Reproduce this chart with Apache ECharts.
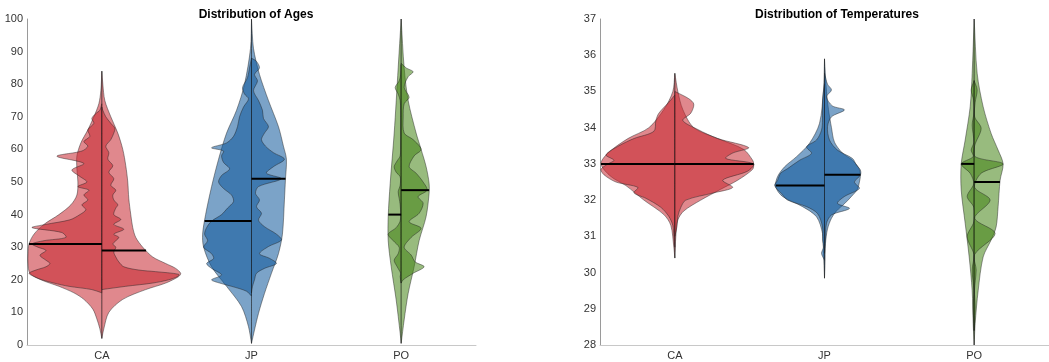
<!DOCTYPE html>
<html>
<head>
<meta charset="utf-8">
<script src="https://cdn.jsdelivr.net/npm/echarts@6/dist/echarts.min.js"></script>
<style>
  html, body { margin: 0; padding: 0; background: #fff; }
  #chart { width: 1049px; height: 362px; }
</style>
</head>
<body>
<div id="chart"></div>
<script>
// Categories shared by both panels
const categories = ['CA', 'JP', 'PO'];

// Medians per category, left half / right half
const ageMediansLeft = [31, 38, 40];
const ageMediansRight = [29, 51, 47.5];
const tempMediansLeft = [33, 32.4, 33];
const tempMediansRight = [33, 32.7, 32.5];

// Density profiles: [value, density] pairs. "Smooth" = wide bandwidth, "Wiggly" = narrow bandwidth.
// Ages
const caAgeLeftSmooth = [[2,0],[5,2],[8,5],[11,9],[14,18],[16,28],[18,43],[20,61],[22,72],[25,74],[28,74],[31,73],[34,68],[37,58],[40,43],[43,31],[46,25],[50,24],[54,25],[58,25],[62,21],[66,14],[70,8],[74,3],[78,1],[84,0]];
const caAgeLeftWiggly = [[16,0],[17,10],[18,33],[19,48],[20,60],[21,68],[22,73],[23,66],[24,56],[25,52],[26,56],[27.5,62],[29,56],[30,64],[31,70],[32,58],[33,36],[34.5,40],[36,70],[37,56],[38.4,32],[40,22],[41.5,16],[43,20],[44.5,14],[46,18],[47.5,13],[48.6,24],[50,15],[51.7,22],[53.7,30],[55.7,18],[57.9,45],[59.5,20],[61,14],[62.4,18],[64,12],[66,14],[68,8],[69.5,10],[71,6],[72,2],[74,0]];
const caAgeRightSmooth = [[2,0],[5,2],[10,7],[14,21],[17,44],[19,64],[21,77],[22,79],[23.5,74],[25,64],[27,51],[30,41],[33,34],[36,31],[40,29],[45,27],[50,26],[55,24],[60,21],[65,16],[70,9],[75,3],[80,1],[84,0]];
const caAgeRightWiggly = [[17,0],[18,24],[19,51],[20,67],[21,76],[21.7,77],[22.5,54],[23,37],[24,22],[25.5,17],[27,14],[28.5,12],[30,14],[31,11],[33,17],[34,12],[35.5,22],[37,12],[38.5,19],[40,12],[42,14],[43,16],[44.5,12],[46,11],[47.5,14],[49,9],[51,12],[53,7],[55,11],[57,6],[59,7],[61,4],[63,9],[65,12],[66.5,13],[68,9],[70,4],[72,1],[73,0]];

const jpAgeLeftSmooth = [[0.5,0],[5.6,3],[11.8,10],[18,25],[24,40],[30,48],[34,49],[40,46],[48.6,40],[57,33],[65,25],[72,15],[80,7],[91,1],[100,0]];
const jpAgeLeftWiggly = [[15,0],[16.5,5],[18,20],[19,32],[20,40],[21.5,30],[23.5,40],[25,45],[26.5,38],[28,40],[30,48],[32,44],[34,47],[36,45],[38,40],[40,30],[42,24],[44,18],[46,20],[48,28],[50,33],[52,30],[54,22],[56,28],[58,30],[59.5,28],[60.5,40],[62,25],[64,18],[67,14],[70,12],[73,8],[75.5,3],[77,7],[79,9],[82,4],[85,2],[88,0]];
const jpAgeRightSmooth = [[0.5,0],[4.6,3],[9.7,7],[15.8,13],[22,20],[28,27],[34,31],[44.5,33],[50.6,34],[57,35],[61,32],[67,27],[75,17],[83,8],[91,2],[100,0]];
const jpAgeRightWiggly = [[16,0],[18,1],[20,3],[22,5],[23.5,13],[25,25],[26.6,18],[28,8],[30.2,17],[32.2,30],[34,25],[36.3,13],[38.3,7],[40.4,10],[42.4,5],[44.5,8],[46.5,4],[48.6,7],[51,30],[52.7,15],[54.7,22],[57,33],[59,22],[61,14],[63,10],[65,13],[67,17],[69.5,12],[72,11],[75,7],[78,2],[81,6],[83,3],[85,8],[87,5],[88,0]];

const poAgeLeftSmooth = [[0.5,0],[3.6,1],[13.8,5],[24,10],[32,13],[39.4,13],[49.6,11],[65,7],[85,3],[100,0]];
const poAgeLeftWiggly = [[19,0],[21,1],[22,0.5],[24,4],[26,7],[28,3],[30,2],[32,8],[34,13],[36,5],[38,1],[40,0.5],[43,1],[45,2],[47,3],[49,1],[51.6,1],[53,5],[54.7,7],[56.5,4],[58,1],[62,0.5],[66,0.5],[72,0.5],[75,1],[77,3],[79,6],[81,2],[83,0.5],[86,0]];
const poAgeRightSmooth = [[0.5,0],[7.7,3],[15.8,7],[24,13],[32,18],[39.4,25],[46.5,28],[49.6,28],[54.7,25],[60,20],[65,15],[75,7],[85,3],[100,0]];
const poAgeRightWiggly = [[19,0],[20,2],[22,12],[24,23],[25.5,14],[27.6,10],[30,3],[33,10],[35.8,20],[37.8,8],[40.4,18],[43.5,22],[45.5,17],[47.5,26],[50,22],[52.7,15],[54.7,8],[58,13],[60,20],[63,12],[65,3],[70,2],[74,3],[76,8],[79,3],[82.3,7],[83.8,12],[85,5],[86.4,0]];

// Temperatures
const caTempLeftSmooth = [[30.4,0],[30.7,1],[31.3,4],[31.6,11],[32.0,31],[32.4,49],[32.65,64],[33.0,74],[33.3,67],[33.7,47],[34.0,26],[34.5,11],[35.0,2],[35.5,0]];
const caTempLeftWiggly = [[30.7,0],[31.0,1],[31.3,2],[31.55,6],[31.8,14],[32.05,29],[32.2,41],[32.35,37],[32.5,59],[32.7,71],[32.85,74],[33.0,67],[33.1,61],[33.25,69],[33.5,56],[33.7,41],[33.9,21],[34.2,19],[34.4,16],[34.7,6],[34.9,0]];
const caTempRightSmooth = [[30.4,0],[31.0,1],[31.45,3],[31.7,9],[32.0,26],[32.3,46],[32.55,63],[32.85,78],[33.0,79],[33.1,78],[33.4,69],[33.7,43],[34.0,19],[34.5,8],[35.0,3],[35.5,0]];
const caTempRightWiggly = [[31.0,0],[31.25,2],[31.55,3],[31.8,6],[32.0,11],[32.2,39],[32.35,58],[32.55,48],[32.8,73],[33.0,79],[33.15,51],[33.3,58],[33.45,74],[33.7,43],[33.95,23],[34.2,8],[34.4,16],[34.65,19],[34.8,14],[35.0,0]];

const jpTempLeftSmooth = [[29.84,0],[30.53,1],[31.08,2],[31.54,8],[31.82,22],[32.1,42],[32.37,49],[32.65,47],[32.92,40],[33.2,28],[33.57,15],[34.12,5],[35.04,1],[35.9,0]];
const jpTempLeftWiggly = [[30.34,0],[30.53,3],[30.7,1],[30.9,2],[31.26,2],[31.63,7],[31.82,18],[32.0,37],[32.18,43],[32.4,50],[32.55,47],[32.74,44],[32.87,37],[33.1,25],[33.29,13],[33.47,18],[33.66,8],[33.93,3],[34.21,2],[34.76,2],[35.2,0]];
const jpTempRightSmooth = [[29.85,0],[30.2,0.5],[30.8,1],[31.2,3],[31.5,7],[31.7,12],[31.9,20],[32.1,27],[32.3,33],[32.5,35],[32.7,36],[32.9,34],[33.1,28],[33.3,18],[33.6,10],[34.0,7],[34.5,4],[35.0,2],[35.9,0]];
const jpTempRightWiggly = [[30.53,0],[30.9,1],[31.36,2],[31.59,7],[31.77,25],[31.91,13],[32.1,20],[32.32,35],[32.5,30],[32.69,36],[32.83,36],[32.97,32],[33.15,28],[33.38,13],[33.66,5],[34.03,3],[34.3,7],[34.49,20],[34.6,8],[34.85,2],[35.04,7],[35.2,3],[35.5,0]];

const poTempLeftSmooth = [[28.0,0],[28.6,1],[29.5,2],[30.43,5],[31.36,9],[32.28,13],[33.0,13],[33.66,9],[34.58,4],[35.5,2],[37.0,0]];
const poTempLeftWiggly = [[28.4,0],[29.05,1],[29.5,0.3],[30.07,2],[30.5,0.3],[30.99,7],[31.4,0.3],[31.8,0.3],[32.1,7],[32.45,0.5],[32.74,4],[33.0,13],[33.2,1],[33.38,3],[33.6,0.3],[34.07,2],[34.4,0.3],[34.76,0.5],[35.04,3],[35.3,0]];
const poTempRightSmooth = [[28.0,0],[28.6,1],[29.5,4],[30.43,9],[30.9,17],[31.26,22],[31.82,24],[32.55,26],[33.0,29],[33.38,24],[33.84,17],[34.58,9],[35.5,3],[37.0,0]];
const poTempRightWiggly = [[28.4,0],[29.05,1],[29.5,0.3],[30.07,2],[30.5,0.5],[31.08,21],[31.5,0.5],[32.0,16],[32.35,0.5],[32.74,7],[33.0,29],[33.2,1],[33.5,0.5],[33.98,7],[34.3,0.5],[34.7,1],[35.04,3],[35.3,0]];

// Per-category fill colours (each layer translucent, so overlaps read darker)
const colors = ['rgba(199,39,48,0.55)', 'rgba(15,88,155,0.55)', 'rgba(68,131,20,0.55)'];
const FONT = '"Liberation Sans", Arial, Helvetica, sans-serif';
const DENSITY_PER_BAND = 150; // density units spanning one category band

const agePieces = [
  [0, -1, caAgeLeftSmooth], [0, -1, caAgeLeftWiggly], [0, 1, caAgeRightSmooth], [0, 1, caAgeRightWiggly],
  [1, -1, jpAgeLeftSmooth], [1, -1, jpAgeLeftWiggly], [1, 1, jpAgeRightSmooth], [1, 1, jpAgeRightWiggly],
  [2, -1, poAgeLeftSmooth], [2, -1, poAgeLeftWiggly], [2, 1, poAgeRightSmooth], [2, 1, poAgeRightWiggly]
];
const tempPieces = [
  [0, -1, caTempLeftSmooth], [0, -1, caTempLeftWiggly], [0, 1, caTempRightSmooth], [0, 1, caTempRightWiggly],
  [1, -1, jpTempLeftSmooth], [1, -1, jpTempLeftWiggly], [1, 1, jpTempRightSmooth], [1, 1, jpTempRightWiggly],
  [2, -1, poTempLeftSmooth], [2, -1, poTempLeftWiggly], [2, 1, poTempRightSmooth], [2, 1, poTempRightWiggly]
];
const ageSmooth = [[caAgeLeftSmooth, caAgeRightSmooth], [jpAgeLeftSmooth, jpAgeRightSmooth], [poAgeLeftSmooth, poAgeRightSmooth]];
const tempSmooth = [[caTempLeftSmooth, caTempRightSmooth], [jpTempLeftSmooth, jpTempRightSmooth], [poTempLeftSmooth, poTempRightSmooth]];

function densityAt(profile, v) {
  for (let i = 1; i < profile.length; i++) {
    const a = profile[i - 1], b = profile[i];
    if (v >= a[0] && v <= b[0]) {
      const t = (v - a[0]) / (b[0] - a[0] || 1);
      return a[1] + t * (b[1] - a[1]);
    }
  }
  return 0;
}

function violinSeries(pieces, axisIndex) {
  return {
    type: 'custom',
    xAxisIndex: axisIndex, yAxisIndex: axisIndex,
    silent: true,
    data: pieces.map(p => [p[0], 0]),
    renderItem: function (params, api) {
      const [cat, side, profile] = pieces[params.dataIndex];
      const band = api.coord([1, 0])[0] - api.coord([0, 0])[0];
      const k = band / DENSITY_PER_BAND;
      const cx = api.coord([cat, 0])[0];
      const outer = profile.map(([v, d]) => [cx + side * d * k, api.coord([cat, v])[1]]);
      const inner = profile.slice().reverse().map(([v]) => [cx, api.coord([cat, v])[1]]);
      return {
        type: 'polygon',
        shape: { points: outer.concat(inner), smooth: 0.3 },
        style: { fill: colors[cat], stroke: 'rgba(30,30,30,0.75)', lineWidth: 0.6 }
      };
    },
    z: 2
  };
}

function medianSeries(medL, medR, smooth, axisIndex) {
  const items = [];
  medL.forEach((m, i) => items.push([i, -1, m]));
  medR.forEach((m, i) => items.push([i, 1, m]));
  return {
    type: 'custom',
    xAxisIndex: axisIndex, yAxisIndex: axisIndex,
    silent: true,
    data: items.map(it => [it[0], it[2]]),
    renderItem: function (params, api) {
      const [cat, side, m] = items[params.dataIndex];
      const band = api.coord([1, 0])[0] - api.coord([0, 0])[0];
      const k = band / DENSITY_PER_BAND;
      const p = api.coord([cat, m]);
      const d = densityAt(smooth[cat][side < 0 ? 0 : 1], m);
      return {
        type: 'line',
        shape: { x1: p[0], y1: p[1], x2: p[0] + side * d * k, y2: p[1] },
        style: { stroke: '#000', lineWidth: 2 }
      };
    },
    z: 5
  };
}

const yAxisCommon = {
  type: 'value',
  axisLine: { show: true, lineStyle: { color: '#9a9a9a', width: 1 } },
  axisTick: { show: false },
  splitLine: { show: false },
  axisLabel: { color: '#333', fontSize: 11, fontFamily: FONT, margin: 4 }
};
const xAxisCommon = {
  type: 'category',
  data: categories,
  axisLine: { show: true, lineStyle: { color: '#c8c8c8', width: 1 } },
  axisTick: { show: false },
  axisLabel: { color: '#333', fontSize: 11, fontFamily: FONT, margin: 5 }
};

const chart = echarts.init(document.getElementById('chart'), null, { renderer: 'canvas' });
chart.setOption({
  animation: false,
  backgroundColor: '#fff',
  title: [
    { text: 'Distribution of Ages', left: 251, top: 4, textAlign: 'center',
      textStyle: { fontSize: 12, fontWeight: 'bold', color: '#000', fontFamily: FONT } },
    { text: 'Distribution of Temperatures', left: 832, top: 4, textAlign: 'center',
      textStyle: { fontSize: 12, fontWeight: 'bold', color: '#000', fontFamily: FONT } }
  ],
  grid: [
    { left: 27, top: 19, width: 449, height: 326 },
    { left: 600, top: 19, width: 457, height: 326 }
  ],
  xAxis: [
    Object.assign({ gridIndex: 0 }, xAxisCommon),
    Object.assign({ gridIndex: 1 }, xAxisCommon)
  ],
  yAxis: [
    Object.assign({ gridIndex: 0, min: 0, max: 100, interval: 10 }, yAxisCommon),
    Object.assign({ gridIndex: 1, min: 28, max: 37, interval: 1 }, yAxisCommon)
  ],
  series: [
    violinSeries(agePieces, 0),
    violinSeries(tempPieces, 1),
    medianSeries(ageMediansLeft, ageMediansRight, ageSmooth, 0),
    medianSeries(tempMediansLeft, tempMediansRight, tempSmooth, 1)
  ]
});
</script>
</body>
</html>
